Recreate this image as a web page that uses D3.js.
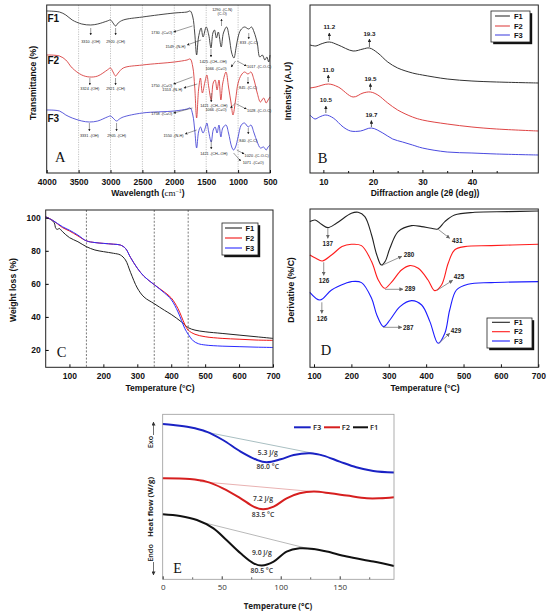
<!DOCTYPE html>
<html>
<head>
<meta charset="utf-8">
<script src="https://cdn.jsdelivr.net/npm/d3@7"></script>
<style>
  body { margin: 0; background: #fff; }
  svg { display: block; }
  text { font-family: "Liberation Sans", Arial, sans-serif; }
</style>
</head>
<body>
<svg id="fig" width="550" height="616"></svg>
<script>
// ---------- data ----------
// A: FTIR, [wavenumber, transmittance (a.u., offset)]
const ftirTicks = [4000, 3500, 3000, 2500, 2000, 1500, 1000, 500];
const ftirGrid = [3500, 3000, 2500, 2000, 1500, 1000];
const ftirF1 = [[4000,162],[3800,161],[3700,158],[3600,153],[3450,149],[3310,148],[3200,149],[3050,152],[3000,153],[2960,150],[2920,147],[2880,150],[2800,153],[2500,156],[2000,160],[1800,161],[1750,162],[1710,156],[1680,140],[1650,118],[1620,136],[1580,145],[1549,136],[1500,146],[1460,138],[1425,125],[1395,140],[1370,143],[1340,135],[1310,141],[1265,126],[1230,140],[1180,146],[1140,136],[1100,120],[1066,115],[1030,126],[1000,136],[960,143],[900,146],[833,144],[790,146],[750,141],[700,130],[660,116],[620,118],[580,113],[550,116],[520,111],[500,118]];
const ftirF2 = [[4000,118],[3800,117],[3700,113],[3600,105],[3450,98],[3324,96],[3200,97],[3050,103],[3000,105],[2960,101],[2921,97],[2880,100],[2800,105],[2500,108],[2000,111],[1800,113],[1750,114],[1710,106],[1680,86],[1650,55],[1620,83],[1590,95],[1560,80],[1520,91],[1490,98],[1460,86],[1421,73],[1390,90],[1360,93],[1330,83],[1300,93],[1270,73],[1240,90],[1190,101],[1150,86],[1110,70],[1080,58],[1040,73],[1000,90],[950,98],[900,101],[845,99],[800,101],[750,93],[700,80],[650,71],[600,75],[560,70],[530,73],[500,76]];
const ftirF3 = [[4000,63],[3800,62],[3700,58],[3600,55],[3450,52],[3331,51],[3200,52],[3050,56],[3000,57],[2960,55],[2905,52],[2860,54],[2800,56],[2500,60],[2000,62],[1800,64],[1750,65],[1710,58],[1680,43],[1650,25],[1620,41],[1590,46],[1550,40],[1510,46],[1490,50],[1460,41],[1421,31],[1390,43],[1360,46],[1330,40],[1300,48],[1270,36],[1240,45],[1190,48],[1150,40],[1100,26],[1071,23],[1040,26],[1000,36],[950,48],[900,50],[840,46],[800,48],[750,40],[700,31],[650,25],[600,26],[560,23],[530,26],[500,28]];
const ftirNotes = [
  {t:"3310 -(OH)", x:3310, y:130, anc:"middle", arr:[3310,145,3310,138]},
  {t:"2920 -(CH)", x:2920, y:130, anc:"middle", arr:[2920,145,2920,138]},
  {t:"1730 -(C=O)", x:2030, y:139, anc:"end", arr:[1716,147,2012,141]},
  {t:"1549 -(N-H)", x:1825, y:125, anc:"end", arr:[1580,133,1800,128]},
  {t:"1290 -(C-N)", x:1250, y:162, anc:"middle", arr:[1260,147,1260,154]},
  {t:"(C-O)", x:1250, y:158, anc:"middle"},
  {t:"1425 -(CH\u2082-OH)", x:1390, y:110, anc:"middle", arr:[1425,124,1425,116]},
  {t:"1066 -(C=O)", x:1512, y:103, anc:"start", arr:[1040,112,1110,106]},
  {t:"1017 -(C-O-C)", x:860, y:105, anc:"start", arr:[1017,112,870,107]},
  {t:"833 -(C-C)", x:833, y:129, anc:"middle", arr:[833,140,833,134]},
  {t:"3324 -(OH)", x:3324, y:83, anc:"middle", arr:[3324,95,3324,88]},
  {t:"2921 -(CH)", x:2921, y:83, anc:"middle", arr:[2921,95,2921,88]},
  {t:"1750 -(C=O)", x:2030, y:86.5, anc:"end", arr:[1716,96,2012,89]},
  {t:"1553 -(N-H)", x:1873, y:82, anc:"end", arr:[1640,89,1850,85]},
  {t:"1421 -(CH\u2082-OH)", x:1380, y:66, anc:"middle", arr:[1421,80,1421,71]},
  {t:"1066 -(C=O)", x:1512, y:62, anc:"start", arr:[1040,70,1120,65]},
  {t:"1028 -(C-O-C)", x:860, y:61, anc:"start", arr:[1028,69,870,64]},
  {t:"845 -(C-C)", x:845, y:84, anc:"middle", arr:[845,96,845,89]},
  {t:"3331 -(OH)", x:3331, y:36, anc:"middle", arr:[3331,50,3331,42]},
  {t:"2905 -(CH)", x:2905, y:36, anc:"middle", arr:[2905,50,2905,42]},
  {t:"1758 -(C=O)", x:2030, y:58, anc:"end", arr:[1716,65,2012,60]},
  {t:"1550 -(N-H)", x:1855, y:36, anc:"end", arr:[1650,43,1830,39]},
  {t:"1421 -(CH\u2082-OH)", x:1380, y:18, anc:"middle", arr:[1421,33,1421,24]},
  {t:"840 -(C-C)", x:840, y:31, anc:"middle", arr:[840,45,840,39]},
  {t:"1020 -(C-O-C)", x:898, y:16, anc:"start", arr:[1020,23,905,19]},
  {t:"1071 -(C=O)", x:929, y:9, anc:"start", arr:[1071,20,960,12]}
];

// B: XRD, [2theta, intensity (a.u., offset)]
const xrdTicks = [10, 20, 30, 40];
const xrdMinor = [15, 25, 35, 45];
const xrdF1 = [[7.3,128],[8.5,127],[9.5,129],[11.2,131],[13,128],[16,122],[18,124],[19.3,125],[21,120],[23,111],[25,105],[28,100],[30,98],[35,94],[40,92],[45,91],[53.4,90]];
const xrdF2 = [[7.3,85],[8.5,86],[11,89],[13,86],[16,76],[18,80],[19.5,81],[21,78],[23,70],[25,63],[28,56],[30,53],[35,49],[40,46],[45,44],[53.4,42]];
const xrdF3 = [[7.3,58],[8.3,54],[9.2,56],[10.5,58],[12,55],[14,46],[15.5,42],[17.5,42],[19.7,45],[22,40],[24,34],[26,31],[28,28],[30,25],[35,21],[40,20],[45,19],[53.4,18]];
const xrdNotes = [
  {t:"11.2", x:11.2, y:144, arr:[11.2,133,11.2,140]},
  {t:"19.3", x:19.3, y:137.5, arr:[19.3,126,19.3,134]},
  {t:"11.0", x:11.0, y:101, arr:[11.0,91,11.0,98]},
  {t:"19.5", x:19.5, y:92, arr:[19.5,83,19.5,89.5]},
  {t:"10.5", x:10.5, y:71, arr:[10.5,60,10.5,67]},
  {t:"19.7", x:19.7, y:56, arr:[19.7,46,19.7,52.5]}
];

// C: TGA, [temperature, weight %]
const tgaTicksX = [100, 200, 300, 400, 500, 600, 700];
const tgaTicksY = [20, 40, 60, 80, 100];
const tgaSteps = [150, 350, 450];
const tgaF1 = [[30,100.5],[45,99],[55,97],[60,93.5],[65,93],[70,93.5],[80,91.5],[100,88],[125,85.5],[150,82.5],[175,80.5],[200,79.5],[230,78.5],[250,77.5],[265,74.5],[280,67],[300,57.5],[320,52],[350,48],[380,44],[400,41.5],[430,37],[450,33.5],[470,32],[500,31],[550,30],[600,29],[650,28],[700,27]];
const tgaF2 = [[30,100.5],[50,98.5],[80,94],[100,92],[125,89],[150,86],[175,85],[200,84.5],[230,84],[250,83.5],[265,81.5],[280,76],[300,69.5],[320,64.5],[350,59.5],[380,55],[400,51.5],[420,45],[440,35.5],[450,32],[470,29.5],[500,28],[550,27],[600,26.5],[650,26],[700,25.8]];
const tgaF3 = [[30,100.5],[50,98.5],[80,94.5],[100,92.5],[125,89.5],[150,86],[175,85],[200,84.5],[230,84],[250,83.5],[265,81.5],[280,76],[300,69.5],[320,64.5],[350,59.5],[380,54.5],[400,50.5],[420,43],[440,33],[450,29.5],[465,25.5],[480,23.8],[500,23],[550,22.3],[600,22],[650,21.7],[700,21.5]];

// D: DTG, [temperature, derivative (a.u., offset)]
const dtgTicks = [100, 200, 300, 400, 500, 600, 700];
const dtgF1 = [[89,145.7],[103,147.3],[120,143],[137,139.7],[160,144],[200,154],[218,155],[236,150.7],[254,132.3],[268,112.3],[280,102.3],[290,105.7],[303,119],[325,135.7],[361,141.7],[388,140.7],[414,139],[431,138.3],[450,145.7],[476,152.3],[530,155],[619,155.7],[700,156.3]];
const dtgF2 = [[89,112.3],[105,109],[122,106.3],[147,112.3],[175,120.7],[200,123],[227,121.7],[254,105.7],[272,87.3],[289,79],[307,85],[334,97.3],[356,101.7],[379,99],[405,87.3],[423,76.7],[441,82.3],[459,104],[476,117.3],[503,120.7],[574,121.7],[700,123]];
const dtgF3 = [[89,75],[116,67.3],[147,77.3],[185,84],[200,85.7],[227,84.7],[254,69],[268,52.3],[286,40.7],[303,47.3],[330,60.7],[361,66.7],[388,62.3],[410,45.7],[432,24],[450,34],[463,57.3],[481,77.3],[512,83],[574,84.7],[700,85.7]];
const dtgNotes = [
  {t:"137", x:137, y:121, anc:"middle", arr:[137,139,137,129]},
  {t:"280", x:340, y:110, anc:"start", arr:[282,102,335,111]},
  {t:"431", x:469, y:124, anc:"start", arr:[432,138,463,129]},
  {t:"126", x:126.7, y:84, anc:"middle", arr:[126,105,126,92]},
  {t:"425", x:474, y:88, anc:"start", arr:[429,77,471,87]},
  {t:"289", x:343, y:76, anc:"start", arr:[290,78,338,78]},
  {t:"126", x:121.4, y:46, anc:"middle", arr:[121,65,121,54]},
  {t:"287", x:338, y:37, anc:"start", arr:[285,40,335,40]},
  {t:"429", x:466, y:34, anc:"start", arr:[434,24,463,34]}
];

// E: DSC, [temperature, heat flow (a.u., offset)]
const dscTicks = [0, 50, 100, 150];
const dscMinor = [25, 75, 125, 175];
const dscF3 = [[0,155.3],[9,154.3],[23,152],[37,147.7],[51,139.3],[66,127.7],[80,119.3],[88,117],[100,120],[111,124.3],[125,126],[136,123.7],[150,117.7],[164,112],[178.5,108.3],[196,106.7]];
const dscF2 = [[0,101],[23,100.3],[37,97.7],[51,91],[66,81],[77,72.7],[85,70],[94,72.7],[105,81],[116,86],[128,87.7],[142,86],[156,83.7],[173,81],[184,81],[196,82]];
const dscF1 = [[0,65],[14.7,63.3],[29,59.3],[43,51],[54,39.3],[66,26],[77,16],[84,13.7],[94,17.7],[105,27.7],[116,31],[128,30.3],[139,27.7],[156,22.7],[178.5,17.7],[196,13.3]];
const dscBase3 = [[34.5,147.7],[135,124.3]];
const dscBase2 = [[31.6,97.7],[127.7,87.7]];
const dscBase1 = [[37,56],[128,29.3]];
const dscNotes = [
  {t:"5.3 J/g", x:89, y:124}, {t:"86.0 \u00B0C", x:89, y:110},
  {t:"7.2 J/g", x:85, y:78}, {t:"83.5 \u00B0C", x:85, y:62},
  {t:"9.0 J/g", x:84, y:24}, {t:"80.5 \u00B0C", x:84, y:6}
];

const series = ["F1", "F2", "F3"];

// ---------- helpers ----------
const svg = d3.select("#fig");
const defs = svg.append("defs");

function marker(id, color, size) {
  defs.append("marker")
    .attr("id", id)
    .attr("viewBox", "0 0 10 10")
    .attr("refX", 9).attr("refY", 5)
    .attr("markerUnits", "userSpaceOnUse")
    .attr("markerWidth", size).attr("markerHeight", size)
    .attr("orient", "auto")
    .append("path").attr("d", "M0,0L10,5L0,10Z").attr("fill", color);
}
marker("arrA", "#222", 2.6);
marker("arrB", "#222", 3.6);
marker("arrD", "#666", 4);
marker("arrE", "#333", 4);

function curve(data, x, y, color, w) {
  svg.append("path")
    .datum(data)
    .attr("fill", "none")
    .attr("stroke", color)
    .attr("stroke-width", w)
    .attr("stroke-linejoin", "round")
    .attr("d", d3.line().x(d => x(d[0])).y(d => y(d[1])).curve(d3.curveCatmullRom.alpha(0.5)));
}

function frame(x, y, color, w) {
  svg.append("rect")
    .attr("x", x.range()[0]).attr("y", y.range()[1])
    .attr("width", x.range()[1] - x.range()[0])
    .attr("height", y.range()[0] - y.range()[1])
    .attr("fill", "none").attr("stroke", color).attr("stroke-width", w);
}

function xAxis(x, y, ticks, size, font, color) {
  const g = svg.append("g")
    .attr("transform", `translate(0,${y.range()[0]})`)
    .call(d3.axisBottom(x).tickValues(ticks).tickSize(-size).tickPadding(5.5).tickFormat(d3.format("d")));
  g.select(".domain").remove();
  g.selectAll("line").attr("stroke", color);
  g.selectAll("text").attr("fill", color).style("font", font);
  return g;
}

function minorTicks(x, y, ticks, color) {
  const g = svg.append("g")
    .attr("transform", `translate(0,${y.range()[0]})`)
    .call(d3.axisBottom(x).tickValues(ticks).tickSize(-2).tickFormat(""));
  g.select(".domain").remove();
  g.selectAll("line").attr("stroke", color);
}

function label(txt, x, y, opts) {
  const t = svg.append("text")
    .attr("x", x).attr("y", y)
    .attr("text-anchor", opts.anchor || "middle")
    .attr("fill", opts.fill || "#111")
    .style("font", opts.font)
    .text(txt);
  if (opts.rotate) t.attr("transform", `rotate(-90,${x},${y})`);
  return t;
}

function notes(list, x, y, font, markerId, stroke, sw) {
  list.forEach(n => {
    if (n.arr) {
      svg.append("line")
        .attr("x1", x(n.arr[0])).attr("y1", y(n.arr[1]))
        .attr("x2", x(n.arr[2])).attr("y2", y(n.arr[3]))
        .attr("stroke", stroke).attr("stroke-width", sw)
        .attr("marker-end", `url(#${markerId})`);
    }
    svg.append("text")
      .attr("x", x(n.x)).attr("y", y(n.y))
      .attr("text-anchor", n.anc || "middle")
      .attr("fill", "#1a1a1a")
      .style("font", font)
      .text(n.t);
  });
}

function boxLegend(x0, y0, x1, y1, rows, colors, lineX, textX) {
  svg.append("rect").attr("x", x0 + 2.2).attr("y", y0 + 2.2)
    .attr("width", x1 - x0).attr("height", y1 - y0).attr("fill", "#111");
  svg.append("rect").attr("x", x0).attr("y", y0)
    .attr("width", x1 - x0).attr("height", y1 - y0)
    .attr("fill", "#fff").attr("stroke", "#222").attr("stroke-width", 0.8);
  series.forEach((s, i) => {
    svg.append("line").attr("x1", lineX[0]).attr("x2", lineX[1])
      .attr("y1", rows[i]).attr("y2", rows[i])
      .attr("stroke", colors[i]).attr("stroke-width", 1.1);
    label(s, textX, rows[i] + 2.7, {anchor: "start", font: "bold 7.5px 'Liberation Sans', Arial, sans-serif"});
  });
}

const tickFont = "bold 8.5px 'Liberation Sans', Arial, sans-serif";
const titleFont = "bold 8.6px 'Liberation Sans', Arial, sans-serif";
const letterFont = "14.5px 'Liberation Serif', 'Times New Roman', serif";

// ---------- panel A : FTIR ----------
const xA = d3.scaleLinear().domain([4000, 500]).range([46.7, 270]);
const yA = d3.scaleLinear().domain([0, 168]).range([173, 5]);
const colA = ["#333333", "#d8403f", "#4a4ad6"];

ftirGrid.forEach(v => {
  svg.append("line").attr("x1", xA(v)).attr("x2", xA(v)).attr("y1", yA(168)).attr("y2", yA(0))
    .attr("stroke", "#9a9a9a").attr("stroke-width", 0.6).attr("stroke-dasharray", "1.2,1.2");
});
curve(ftirF1, xA, yA, colA[0], 0.9);
curve(ftirF2, xA, yA, colA[1], 0.9);
curve(ftirF3, xA, yA, colA[2], 0.9);
frame(xA, yA, "#222", 1);
xAxis(xA, yA, ftirTicks, 3, tickFont, "#111");
notes(ftirNotes, xA, yA, "3.8px 'Liberation Sans', Arial, sans-serif", "arrA", "#222", 0.45);

label("F1", 47.5, 22, {anchor: "start", font: "bold 10px 'Liberation Sans', Arial, sans-serif"});
label("F2", 47.5, 63.6, {anchor: "start", font: "bold 10px 'Liberation Sans', Arial, sans-serif"});
label("F3", 47.5, 122, {anchor: "start", font: "bold 10px 'Liberation Sans', Arial, sans-serif"});
label("A", 55, 162.3, {anchor: "start", font: letterFont});

const tA = label("Wavelength (", 148, 196, {font: titleFont});
tA.append("tspan").style("font", "9px 'Liberation Serif', serif").text("cm");
tA.append("tspan").style("font", "6px 'Liberation Serif', serif").attr("dy", -3).text("\u22121");
tA.append("tspan").attr("dy", 3).text(")");
label("Transmittance (%)", 36, 83, {font: titleFont, rotate: true});

// ---------- panel B : XRD ----------
const xB = d3.scaleLinear().domain([7.3, 53.4]).range([310, 538.3]);
const yB = d3.scaleLinear().domain([0, 168]).range([173, 5]);
const colB = ["#333333", "#df4545", "#4a4ae0"];

curve(xrdF1, xB, yB, colB[0], 1);
curve(xrdF2, xB, yB, colB[1], 1);
curve(xrdF3, xB, yB, colB[2], 1);
frame(xB, yB, "#222", 1);
xAxis(xB, yB, xrdTicks, 3, tickFont, "#111");
minorTicks(xB, yB, xrdMinor, "#111");
notes(xrdNotes, xB, yB, "bold 6.2px 'Liberation Sans', Arial, sans-serif", "arrB", "#222", 0.7);
boxLegend(491, 11, 530, 42, [16, 26, 35], colB, [495, 510], 514);
label("B", 317.7, 163.3, {anchor: "start", font: letterFont});
label("Diffraction angle (2\u03B8 (deg))", 425, 196, {font: titleFont});
label("Intensity (A.U)", 291, 91, {font: titleFont, rotate: true});

// ---------- panel C : TGA ----------
const xC = d3.scaleLinear().domain([30, 700]).range([45.7, 273]);
const yC = d3.scaleLinear().domain([9.5, 104.7]).range([367.3, 210]);
const colC = ["#222222", "#f01515", "#2b2bff"];

tgaSteps.forEach(v => {
  svg.append("line").attr("x1", xC(v)).attr("x2", xC(v)).attr("y1", yC(104.7)).attr("y2", yC(9.5))
    .attr("stroke", "#444").attr("stroke-width", 0.7).attr("stroke-dasharray", "2,1.6");
});
curve(tgaF1, xC, yC, colC[0], 1);
curve(tgaF2, xC, yC, colC[1], 1);
curve(tgaF3, xC, yC, colC[2], 1);
frame(xC, yC, "#222", 1);
xAxis(xC, yC, tgaTicksX, 3, tickFont, "#111");
const gyC = svg.append("g")
  .attr("transform", `translate(${xC.range()[0]},0)`)
  .call(d3.axisLeft(yC).tickValues(tgaTicksY).tickSize(-3).tickPadding(5));
gyC.select(".domain").remove();
gyC.selectAll("text").style("font", tickFont).attr("fill", "#111");
boxLegend(222, 223, 258, 255, [228, 238, 248], colC, [225, 242], 245.5);
label("C", 56.7, 356.7, {anchor: "start", font: letterFont});
label("Temperature (\u00B0C)", 160, 391, {font: titleFont});
label("Weight loss (%)", 16, 290, {font: titleFont, rotate: true});

// ---------- panel D : DTG ----------
const xD = d3.scaleLinear().domain([89.3, 700]).range([310, 538.3]);
const yD = d3.scaleLinear().domain([0, 158.3]).range([367.3, 209]);
const colD = ["#222222", "#ff1c1c", "#1c1cff"];

curve(dtgF1, xD, yD, colD[0], 1.1);
curve(dtgF2, xD, yD, colD[1], 1.1);
curve(dtgF3, xD, yD, colD[2], 1.1);
frame(xD, yD, "#222", 1);
xAxis(xD, yD, dtgTicks, 3, tickFont, "#111");
notes(dtgNotes, xD, yD, "bold 6.3px 'Liberation Sans', Arial, sans-serif", "arrD", "#777", 0.8);
boxLegend(487, 318, 532, 348, [322.3, 331.7, 341], colD, [492, 510], 514);
label("D", 320.7, 355, {anchor: "start", font: letterFont});
label("Temperature (\u00B0C)", 425, 391, {font: titleFont});
label("Derivative (%/C)", 294, 290, {font: titleFont, rotate: true});

// ---------- panel E : DSC ----------
const xE = d3.scaleLinear().domain([0, 196]).range([162.7, 394]);
const yE = d3.scaleLinear().domain([0, 165]).range([579.3, 414.3]);
const colE = ["#111111", "#d61f1f", "#1a22c4"];
const eFont = "'Open Sans', 'Noto Sans', sans-serif";

curve(dscBase3, xE, yE, "#a9bfc2", 1);
curve(dscBase2, xE, yE, "#e9b2b2", 1);
curve(dscBase1, xE, yE, "#b9b9b9", 1);
curve(dscF3, xE, yE, colE[2], 2);
curve(dscF2, xE, yE, colE[1], 2);
curve(dscF1, xE, yE, colE[0], 2);
frame(xE, yE, "#9a9a9a", 0.8);
xAxis(xE, yE, dscTicks, 3, `8px ${eFont}`, "#333");
minorTicks(xE, yE, dscMinor, "#666");
dscNotes.forEach(n => label(n.t, xE(n.x), yE(n.y), {font: `600 6.8px ${eFont}`, fill: "#333"}));

// legend in a row
const eLeg = [[294, 310.7, 313, 2], [324, 340, 341.7, 1], [353, 368, 370, 0]];
eLeg.forEach(r => {
  svg.append("line").attr("x1", r[0]).attr("x2", r[1]).attr("y1", 427.3).attr("y2", 427.3)
    .attr("stroke", colE[r[3]]).attr("stroke-width", 2);
  label(series[r[3]], r[2], 430, {anchor: "start", font: `600 7.5px ${eFont}`, fill: "#222"});
});

label("E", 173.3, 573.3, {anchor: "start", font: "14px 'Liberation Serif', 'Times New Roman', serif"});
label("Temperature (\u00B0C)", 278, 609, {font: `bold 8px ${eFont}`, fill: "#222"});
label("Heat flow (W/g)", 153, 507, {font: `bold 7.8px ${eFont}`, fill: "#222", rotate: true});
label("Exo", 153, 442, {font: `600 7.3px ${eFont}`, fill: "#222", rotate: true});
label("Endo", 153, 553, {font: `600 7.3px ${eFont}`, fill: "#222", rotate: true});
svg.append("line").attr("x1", 153.5).attr("x2", 153.5).attr("y1", 435).attr("y2", 422)
  .attr("stroke", "#333").attr("stroke-width", 0.7).attr("marker-end", "url(#arrE)");
svg.append("line").attr("x1", 153.5).attr("x2", 153.5).attr("y1", 562).attr("y2", 575)
  .attr("stroke", "#333").attr("stroke-width", 0.7).attr("marker-end", "url(#arrE)");
</script>
</body>
</html>
